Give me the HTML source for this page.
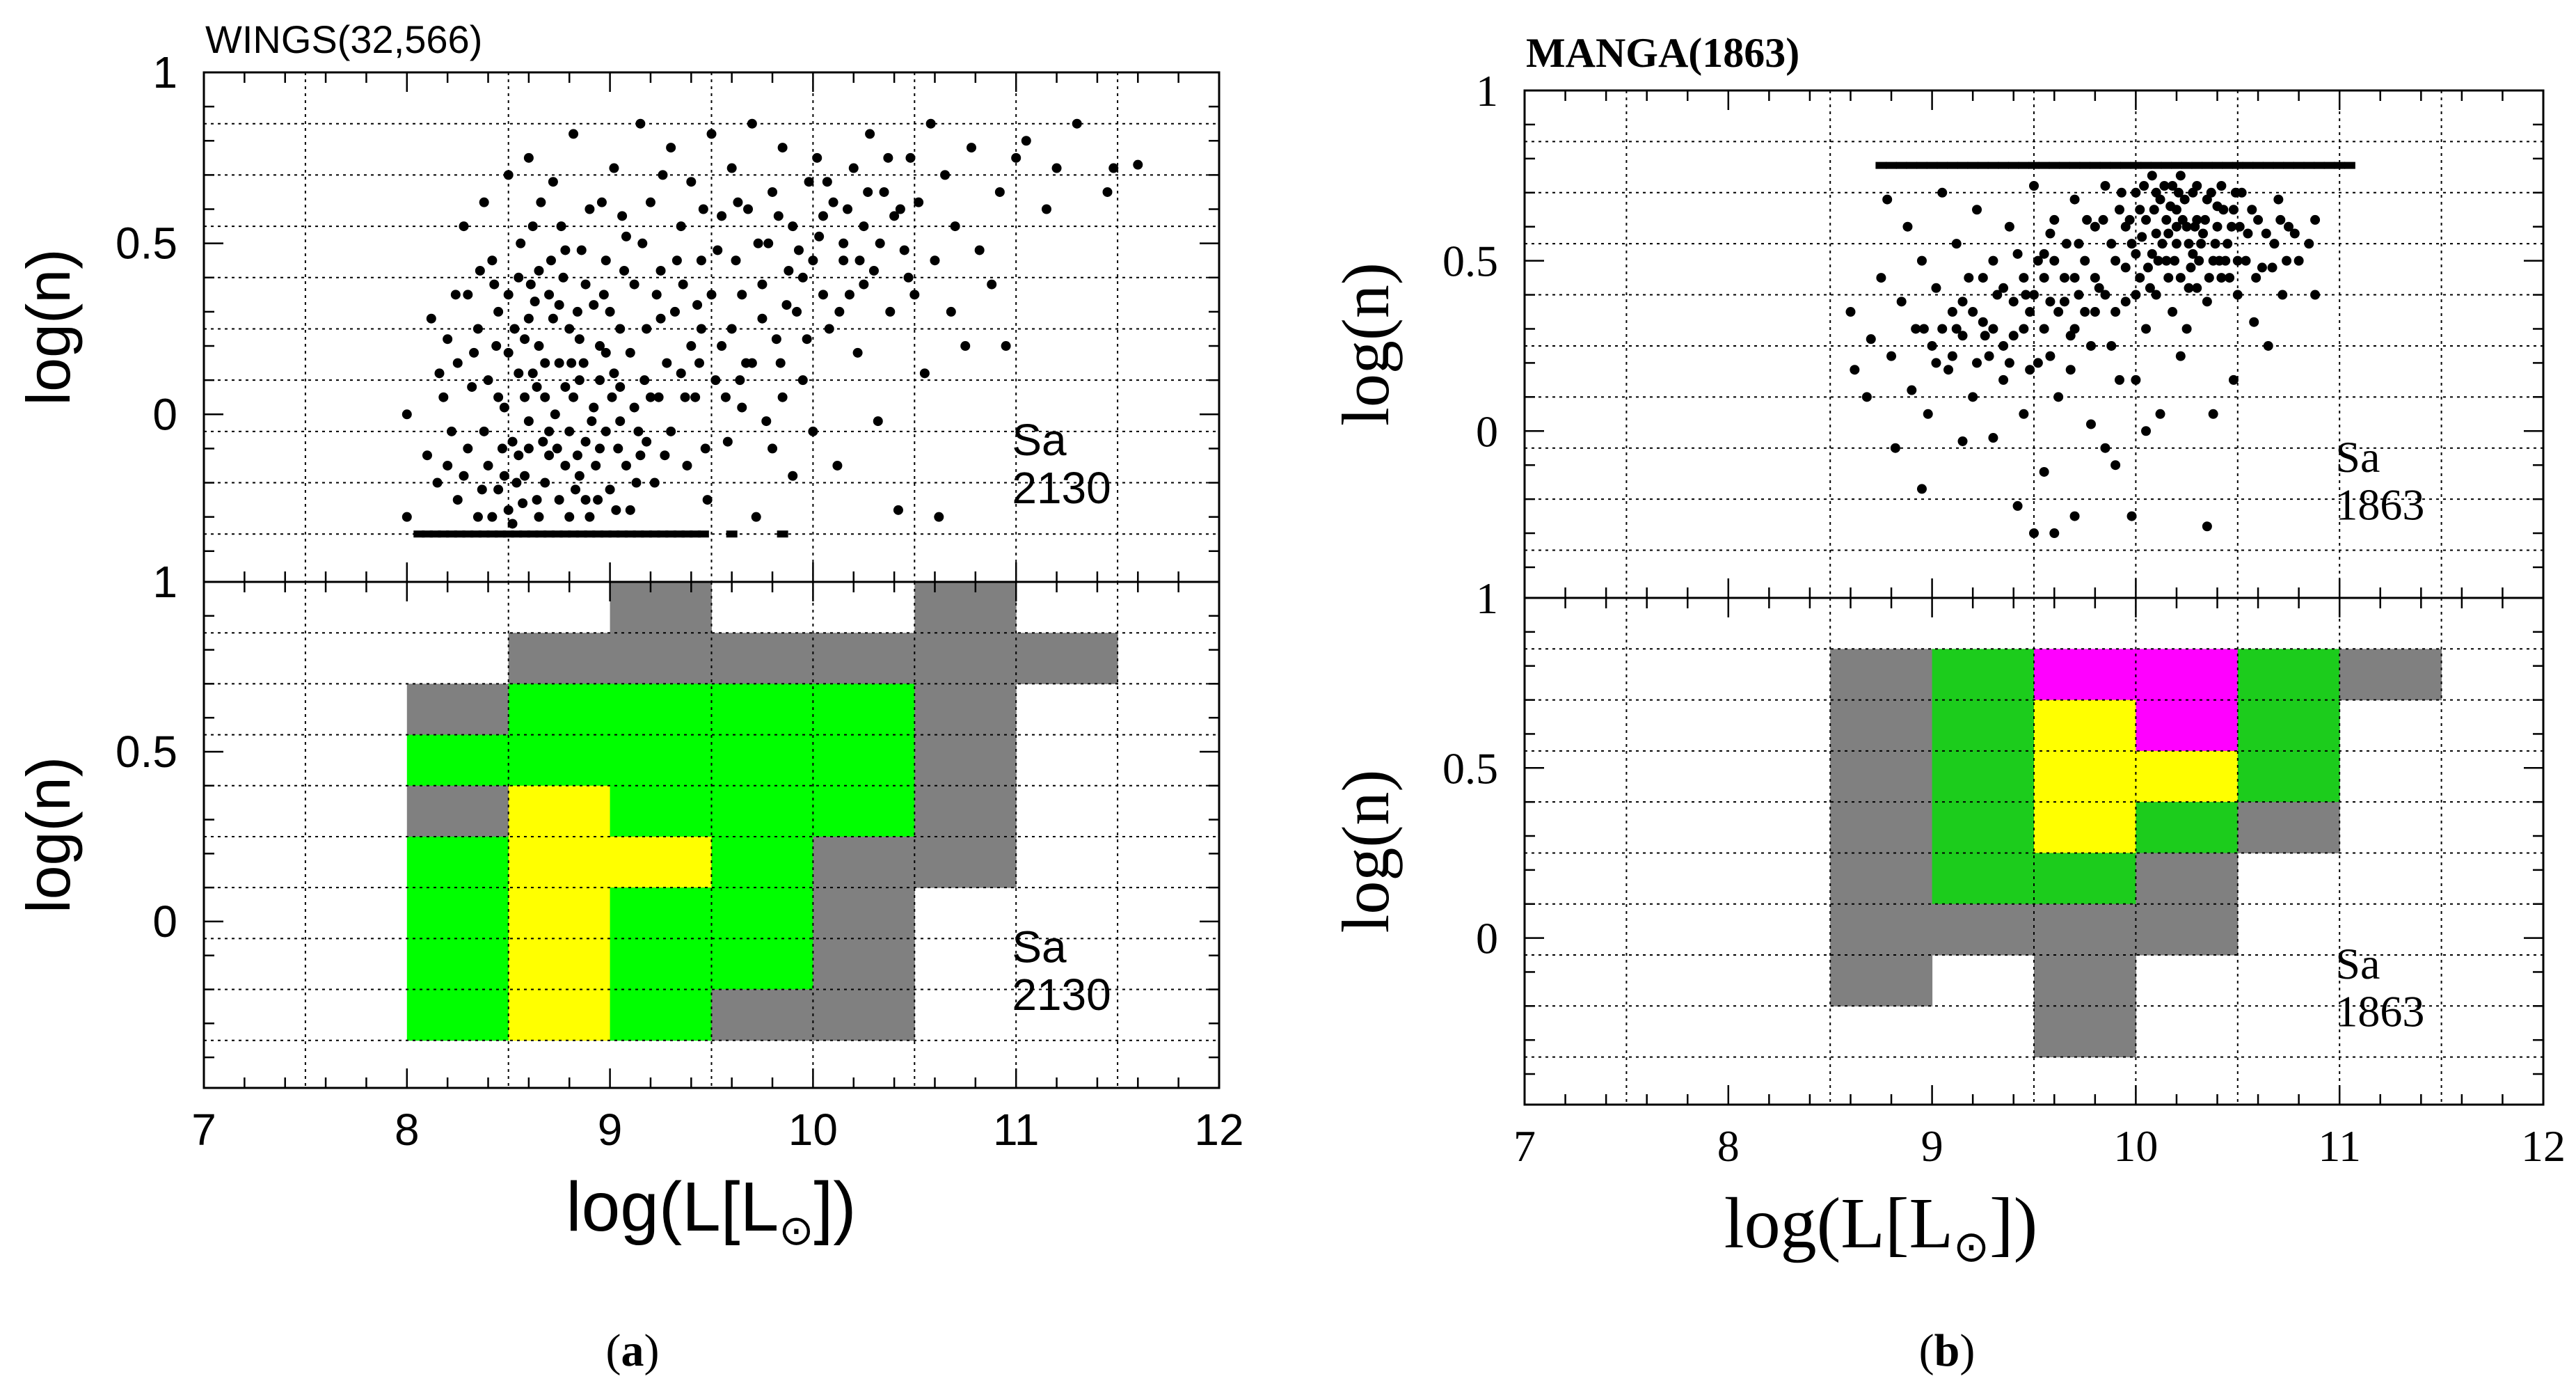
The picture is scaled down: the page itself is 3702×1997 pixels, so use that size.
<!DOCTYPE html>
<html><head><meta charset="utf-8">
<style>
html,body{margin:0;padding:0;background:#fff;}
svg{display:block;}
.sans{font-family:"Liberation Sans",sans-serif;}
.serif{font-family:"Liberation Serif",serif;}
</style></head>
<body>
<svg id="fig" width="3702" height="1997" viewBox="0 0 3702 1997" xmlns="http://www.w3.org/2000/svg">
<rect x="0" y="0" width="3702" height="1997" fill="#fff"/>
</svg>
<script>
// ---- data ----
const xBins = [8, 8.5, 9, 9.5, 10, 10.5, 11, 11.5];
const yBinTops = [1, 0.85, 0.7, 0.55, 0.4, 0.25, 0.1, -0.05, -0.2];
// category codes: 0 empty, 1 gray, 2 green, 3 yellow, 4 magenta
const wingsGrid = [
 [0,0,1,0,0,1,0,0],
 [0,1,1,1,1,1,1,0],
 [1,2,2,2,2,1,0,0],
 [2,2,2,2,2,1,0,0],
 [1,3,2,2,2,1,0,0],
 [2,3,3,2,1,1,0,0],
 [2,3,2,2,1,0,0,0],
 [2,3,2,2,1,0,0,0],
 [2,3,2,1,1,0,0,0]
];
const mangaGrid = [
 [0,0,0,0,0,0,0,0],
 [0,1,2,4,4,2,1,0],
 [0,1,2,3,4,2,0,0],
 [0,1,2,3,3,2,0,0],
 [0,1,2,3,2,1,0,0],
 [0,1,2,2,1,0,0,0],
 [0,1,1,1,1,0,0,0],
 [0,1,0,1,0,0,0,0],
 [0,0,0,1,0,0,0,0]
];
const wingsPts = "8.0,0;8.0,-0.3;8.1,-0.12;8.12,0.28;8.15,-0.2;8.18,0.05;8.2,0.22;8.22,-0.05;8.25,0.15;8.25,-0.25;8.28,0.55;8.3,0.35;8.3,-0.1;8.32,0.08;8.35,-0.3;8.35,0.25;8.38,0.62;8.4,-0.15;8.4,0.1;8.42,0.45;8.45,-0.22;8.45,0.3;8.48,0.02;8.5,0.7;8.5,-0.28;8.5,0.18;8.52,-0.08;8.55,0.4;8.55,0.12;8.58,-0.18;8.6,0.28;8.6,0.75;8.6,-0.02;8.62,0.55;8.65,-0.3;8.65,0.2;8.68,0.05;8.7,0.35;8.7,-0.12;8.72,0.68;8.75,0.15;8.75,-0.25;8.78,0.48;8.8,-0.05;8.8,0.25;8.82,0.82;8.85,-0.18;8.85,0.1;8.88,0.38;8.9,-0.3;8.9,0.6;8.92,0.02;8.95,0.2;8.95,-0.1;8.98,0.45;9.0,0.3;9.0,-0.22;9.02,0.72;9.05,0.08;9.05,-0.02;9.08,0.52;9.1,0.18;9.1,-0.28;9.12,0.38;9.15,0.85;9.15,-0.12;9.18,0.25;9.2,0.62;9.2,0.05;9.22,-0.2;9.25,0.42;9.28,0.15;9.3,0.78;9.3,-0.05;9.32,0.3;9.35,0.55;9.38,-0.15;9.4,0.2;9.4,0.68;9.42,0.05;9.45,0.45;9.48,-0.25;9.5,0.35;9.5,0.82;9.52,0.1;9.55,0.58;9.58,-0.08;9.6,0.25;9.6,0.72;9.62,0.45;9.65,0.02;9.68,0.6;9.7,0.15;9.7,0.85;9.72,-0.3;9.75,0.38;9.78,0.5;9.8,-0.1;9.8,0.65;9.82,0.22;9.85,0.78;9.88,0.42;9.9,-0.18;9.9,0.55;9.92,0.3;9.95,0.1;9.98,0.68;10.0,0.45;10.0,-0.05;10.02,0.75;10.05,0.58;10.08,0.25;10.1,0.62;10.12,-0.15;10.15,0.5;10.18,0.35;10.2,0.72;10.22,0.18;10.25,0.55;10.28,0.82;10.3,0.42;10.32,-0.02;10.35,0.65;10.38,0.3;10.4,0.58;10.42,-0.28;10.45,0.48;10.48,0.75;10.5,0.35;10.52,0.62;10.55,0.12;10.58,0.85;10.6,0.45;10.62,-0.3;10.65,0.7;10.68,0.3;10.7,0.55;10.75,0.2;10.78,0.78;10.82,0.48;10.88,0.38;10.92,0.65;10.95,0.2;11.0,0.75;11.05,0.8;11.15,0.6;11.2,0.72;11.3,0.85;11.45,0.65;11.48,0.72;11.6,0.73;8.45,0.05;8.55,-0.12;8.62,0.12;8.68,-0.2;8.72,0.28;8.78,-0.15;8.82,0.05;8.88,-0.25;8.92,0.32;8.98,-0.05;9.02,0.12;9.08,-0.15;8.5,0.35;8.58,0.22;8.65,0.42;8.75,0.32;8.85,0.22;8.95,0.1;9.05,0.25;9.12,0.02;8.38,-0.05;8.42,-0.3;8.52,-0.32;8.6,-0.1;8.7,-0.05;8.8,-0.3;9.18,-0.08;9.25,0.28;9.35,0.12;9.45,0.25;9.55,0.2;9.65,0.35;9.75,0.28;9.85,0.05;9.95,0.4;10.05,0.35;10.15,0.45;10.25,0.38;8.48,-0.18;8.58,0.05;8.68,0.15;8.78,0.08;8.88,-0.08;8.98,0.18;8.44,0.2;8.64,-0.25;8.84,0.3;9.04,-0.1;8.33,0.18;8.37,-0.22;8.43,0.38;8.47,-0.1;8.53,0.25;8.57,-0.26;8.63,0.33;8.67,-0.08;8.73,0.0;8.77,0.4;8.83,-0.22;8.87,0.15;8.93,-0.15;8.97,0.35;9.03,-0.28;9.07,0.42;9.13,-0.2;9.17,0.1;9.23,0.35;9.27,-0.12;9.33,0.45;9.37,0.05;9.43,0.32;9.47,-0.1;9.53,0.48;9.57,0.05;9.63,0.62;9.67,0.15;9.73,0.5;9.77,-0.02;9.83,0.58;9.87,0.32;9.93,0.48;9.97,0.22;10.03,0.52;10.07,0.68;10.13,0.3;10.17,0.6;10.23,0.45;10.27,0.65;10.33,0.5;10.37,0.75;10.43,0.6;10.47,0.4;8.56,0.5;8.66,0.62;8.76,0.55;8.86,0.48;8.96,0.62;9.06,0.58;9.16,0.5;9.26,0.7;9.36,0.38;9.46,0.6;8.24,0.35;8.2,-0.15;8.16,0.12;8.28,-0.18;8.36,0.42;8.61,0.38;8.71,0.45;8.81,0.15;8.91,-0.02;9.01,0.05;8.54,-0.2;8.74,-0.1;8.94,-0.25;9.14,-0.05;8.64,0.08;8.84,-0.12;9.24,0.05;9.44,0.15;9.64,0.1;9.84,0.15";
const wingsFloorX = [8.06,8.1,8.14,8.18,8.22,8.26,8.3,8.34,8.38,8.42,8.46,8.5,8.54,8.58,8.62,8.66,8.7,8.74,8.78,8.82,8.86,8.9,8.94,8.98,9.02,9.06,9.1,9.14,9.18,9.22,9.26,9.3,9.34,9.38,9.42,9.46,9.6,9.85];
const wingsFloorY = -0.35;
const mangaPts = "8.6,0.35;8.62,0.18;8.68,0.1;8.7,0.27;8.75,0.45;8.78,0.68;8.8,0.22;8.82,-0.05;8.85,0.38;8.88,0.6;8.9,0.12;8.92,0.3;8.95,0.5;8.95,-0.17;8.98,0.05;9.0,0.25;9.02,0.42;9.05,0.7;9.08,0.18;9.1,0.35;9.12,0.55;9.15,-0.03;9.15,0.28;9.18,0.45;9.2,0.1;9.22,0.65;9.25,0.32;9.28,0.22;9.3,0.5;9.3,-0.02;9.32,0.4;9.35,0.15;9.38,0.6;9.4,0.28;9.42,-0.22;9.45,0.45;9.45,0.05;9.48,0.35;9.5,0.72;9.5,-0.3;9.52,0.2;9.55,0.52;9.55,-0.12;9.58,0.38;9.6,0.62;9.6,-0.3;9.62,0.1;9.65,0.45;9.68,0.28;9.7,0.68;9.7,-0.25;9.72,0.55;9.75,0.35;9.78,0.02;9.8,0.6;9.82,0.42;9.85,0.72;9.85,-0.05;9.88,0.25;9.9,0.5;9.9,-0.1;9.92,0.65;9.95,0.38;9.98,0.55;9.98,-0.25;10.0,0.7;10.0,0.15;10.02,0.45;10.05,0.62;10.05,0.3;10.08,0.75;10.08,0.52;10.1,0.58;10.1,0.4;10.12,0.68;10.12,0.05;10.15,0.5;10.15,0.62;10.18,0.72;10.18,0.35;10.2,0.55;10.2,0.65;10.22,0.45;10.22,0.75;10.25,0.6;10.25,0.3;10.28,0.52;10.28,0.7;10.3,0.42;10.3,0.62;10.32,0.55;10.35,0.68;10.35,0.38;10.38,0.5;10.38,0.05;10.4,0.6;10.42,0.72;10.42,0.45;10.45,0.55;10.48,0.65;10.5,0.4;10.5,0.5;10.52,0.7;10.55,0.58;10.58,0.32;10.6,0.62;10.62,0.48;10.65,0.25;10.68,0.55;10.7,0.68;10.72,0.4;10.75,0.6;10.8,0.5;10.85,0.55;10.88,0.62;10.88,0.4;10.35,-0.28;10.05,0.0;9.92,0.15;10.22,0.22;10.48,0.15;9.95,0.6;10.0,0.52;10.02,0.65;10.07,0.42;10.1,0.7;10.13,0.55;10.16,0.45;10.2,0.6;10.24,0.68;10.27,0.48;10.3,0.72;10.33,0.58;10.36,0.45;10.4,0.66;10.44,0.5;10.47,0.6;10.03,0.57;10.17,0.66;10.26,0.55;10.39,0.55;9.25,0.45;9.4,0.38;9.55,0.3;9.7,0.45;9.8,0.35;9.6,0.5;9.35,0.25;9.15,0.38;9.05,0.3;9.1,0.22;9.2,0.35;9.3,0.3;9.35,0.42;9.45,0.3;9.5,0.4;9.55,0.45;9.65,0.38;9.7,0.3;9.75,0.5;9.8,0.45;9.85,0.4;9.9,0.35;9.95,0.48;10.0,0.4;9.93,0.7;9.97,0.62;10.04,0.72;10.06,0.48;10.09,0.65;10.11,0.5;10.14,0.72;10.16,0.58;10.19,0.5;10.21,0.7;10.23,0.62;10.26,0.42;10.29,0.6;10.31,0.5;10.34,0.62;10.37,0.7;10.41,0.5;10.43,0.65;10.46,0.45;10.49,0.7;10.51,0.6;10.54,0.5;10.57,0.65;10.59,0.45;10.64,0.58;10.67,0.48;10.71,0.62;10.74,0.5;10.78,0.58;9.88,0.55;9.84,0.62;9.76,0.62;9.72,0.4;9.66,0.55;9.62,0.35;9.58,0.58;9.52,0.5;9.46,0.4;9.42,0.52;9.26,0.28;9.22,0.2;9.12,0.3;9.02,0.2;8.96,0.3;9.38,0.2;9.48,0.18;9.58,0.22;9.68,0.18;9.78,0.25";
const mangaCapX = [8.75,8.8,8.85,8.9,8.95,9.0,9.05,9.1,9.15,9.2,9.25,9.3,9.35,9.4,9.45,9.5,9.55,9.6,9.65,9.7,9.75,9.8,9.85,9.9,9.95,10.0,10.05,10.1,10.15,10.2,10.25,10.3,10.35,10.4,10.45,10.5,10.55,10.6,10.65,10.7,10.75,10.8,10.85,10.9,10.95,11.0,11.05];
const mangaCapY = 0.78;
const xTicks = [7, 8, 9, 10, 11, 12];
const yTicks = [0, 0.5, 1];

// ---- drawing ----
const NS = "http://www.w3.org/2000/svg";
const svg = document.getElementById('fig');
function mk(tag, attrs, parent){
  const e = document.createElementNS(NS, tag);
  for (const k in attrs) e.setAttribute(k, attrs[k]);
  (parent||svg).appendChild(e);
  return e;
}
function parsePts(s){ return s.split(';').map(p=>p.split(',').map(Number)); }

function panel(cfg){
  const g = mk('g', {});
  
  
  const X0 = cfg.left, X1 = cfg.right;
  const sx = v => X0 + (v - 7) / 5 * (X1 - X0);
  const ymin = -0.49;
  const sub = [{top:cfg.top, bot:cfg.mid}, {top:cfg.mid, bot:cfg.bot}];
  sub.forEach((p, i) => {
    const sy = v => p.top + (1 - v) / (1 - ymin) * (p.bot - p.top);
    p.sy = sy;
    if (i === 1) {
      const colors = ['none', '#808080', cfg.green, '#ffff00', '#ff00ff'];
      cfg.grid.forEach((row, r) => row.forEach((c, k) => {
        if (!c) return;
        const x0 = sx(xBins[k]), x1 = sx(xBins[k] + 0.5);
        const y0 = sy(yBinTops[r]), y1 = sy(yBinTops[r] - 0.15);
        const rc = mk('rect', {x:x0, y:y0, width:x1 - x0 + 0.5, height:y1 - y0 + 0.5, fill:colors[c]}, g);
        
        
      }));
    }
    [7.5, 8.5, 9.5, 10, 10.5, 11, 11.5].forEach(v => {
      mk('line', {x1:sx(v), x2:sx(v), y1:p.top, y2:p.bot, stroke:'#000', 'stroke-width':2, 'stroke-dasharray':'4 6'}, g);
    });
    yBinTops.slice(1).concat([-0.35]).forEach(v => {
      mk('line', {x1:X0, x2:X1, y1:sy(v), y2:sy(v), stroke:'#000', 'stroke-width':2, 'stroke-dasharray':'4 6'}, g);
    });
    for (let t = 7; t <= 12.001; t += 0.2) {
      const major = Math.abs(t - Math.round(t)) < 0.01;
      const L = major ? 28 : 15;
      mk('line', {x1:sx(t), x2:sx(t), y1:p.bot, y2:p.bot - L, stroke:'#000', 'stroke-width':2.5}, g);
      mk('line', {x1:sx(t), x2:sx(t), y1:p.top, y2:p.top + L, stroke:'#000', 'stroke-width':2.5}, g);
    }
    for (let t = -0.4; t <= 1.001; t += 0.1) {
      const major = Math.abs(t * 2 - Math.round(t * 2)) < 0.01;
      const L = major ? 28 : 15;
      mk('line', {x1:X0, x2:X0 + L, y1:sy(t), y2:sy(t), stroke:'#000', 'stroke-width':2.5}, g);
      mk('line', {x1:X1, x2:X1 - L, y1:sy(t), y2:sy(t), stroke:'#000', 'stroke-width':2.5}, g);
    }
    yTicks.forEach(v => {
      const tx = mk('text', {x:cfg.ylabX, y:sy(v) + 22, 'text-anchor':'end', 'font-size':64, class:cfg.font}, g);
      tx.textContent = v === 0.5 ? '0.5' : String(v);
      
      
    });
    const yc = (p.top + p.bot) / 2;
    const yt = mk('text', {x:cfg.ytitleX, y:yc, 'text-anchor':'middle', 'font-size':cfg.ytitleSize, class:cfg.font, transform:`rotate(-90 ${cfg.ytitleX} ${yc})`}, g);
    yt.textContent = 'log(n)';
    
    
    const s1 = mk('text', {x:sx(10.98), y:sy(-0.12), 'font-size':64, class:cfg.font}, g);
    s1.textContent = 'Sa';
    
    
    const s2 = mk('text', {x:sx(10.98), y:sy(-0.26), 'font-size':64, class:cfg.font}, g);
    s2.textContent = cfg.count;
    
    
  });
  const syT = sub[0].sy;
  parsePts(cfg.pts).forEach(([x, y]) => {
    const c = mk('circle', {cx:sx(x), cy:syT(y), r:7, fill:'#000'}, g);
    
    
  });
  cfg.lineX.forEach(x => {
    const c = mk('rect', {x:sx(x) - 8, y:syT(cfg.lineY) - 5, width:16, height:10, fill:'#000'}, g);
    
    
  });
  mk('rect', {x:X0, y:cfg.top, width:X1 - X0, height:cfg.bot - cfg.top, fill:'none', stroke:'#000', 'stroke-width':3}, g);
  mk('line', {x1:X0, x2:X1, y1:cfg.mid, y2:cfg.mid, stroke:'#000', 'stroke-width':3}, g);
  xTicks.forEach(v => {
    const tx = mk('text', {x:sx(v), y:cfg.xlabY, 'text-anchor':'middle', 'font-size':64, class:cfg.font}, g);
    tx.textContent = String(v);
    
    
  });
  const xt = mk('text', {x:cfg.xtitleX, y:cfg.xtitleY, 'text-anchor':'middle', 'font-size':cfg.xtitleSize, class:cfg.font}, g);
  xt.innerHTML = 'log(L[L<tspan font-size="' + Math.round(cfg.xtitleSize*0.6) + '" dy="20">⊙</tspan><tspan dy="-20">])</tspan>';
  
  
  const tt = mk('text', {x:cfg.left + 2, y:cfg.titleY, 'font-size':cfg.titleSize, class:cfg.font, 'font-weight':cfg.titleWeight}, g);
  tt.textContent = cfg.title;
  
  
  const cp = mk('text', {x:cfg.capX, y:cfg.capY, 'text-anchor':'middle', 'font-size':66, class:'serif'}, g);
  cp.innerHTML = '(<tspan font-weight="bold">' + cfg.cap + '</tspan>)';
  
  
}

panel({name:'panel-a-wings', left:293, right:1752, top:104, mid:836, bot:1563,
  grid:wingsGrid, green:'#00ff00', pts:wingsPts, lineX:wingsFloorX, lineY:wingsFloorY,
  font:'sans', ylabX:255, ytitleX:100, ytitleSize:88, count:'2130', xlabY:1645,
  xtitleX:1022, xtitleY:1768, xtitleSize:100, title:'WINGS(32,566)', titleY:76, titleSize:56, titleWeight:'normal',
  cap:'a', capX:909, capY:1962});
panel({name:'panel-b-manga', left:2191, right:3655, top:130, mid:859, bot:1587,
  grid:mangaGrid, green:'#1ccc1c', pts:mangaPts, lineX:mangaCapX, lineY:mangaCapY,
  font:'serif', ylabX:2153, ytitleX:1995, ytitleSize:96, count:'1863', xlabY:1668,
  xtitleX:2703, xtitleY:1792, xtitleSize:104, title:'MANGA(1863)', titleY:96, titleSize:60, titleWeight:'bold',
  cap:'b', capX:2798, capY:1962});
</script>
</body></html>
